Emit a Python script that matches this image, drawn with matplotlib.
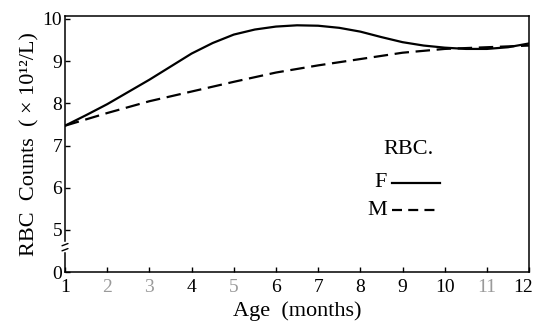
"""RBC counts vs age for female and male infants."""

import matplotlib

matplotlib.use("Agg")
import matplotlib.pyplot as plt

# readings (value 0 on the broken axis sits at 4.0)
AGE_F = [1, 1.5, 2, 2.5, 3, 3.5, 4, 4.5, 5, 5.5, 6, 6.5, 7, 7.5, 8, 8.5, 9, 9.5, 10, 10.5, 11, 11.5, 12]
RBC_F = [7.47, 7.72, 7.98, 8.27, 8.56, 8.87, 9.18, 9.43, 9.63, 9.75, 9.82, 9.85, 9.84,
         9.79, 9.70, 9.57, 9.45, 9.37, 9.32, 9.29, 9.29, 9.33, 9.42]
AGE_M = [1, 2, 3, 4, 5, 6, 7, 8, 9, 10, 11, 12]
RBC_M = [7.47, 7.77, 8.05, 8.28, 8.51, 8.73, 8.90, 9.05, 9.20, 9.29, 9.33, 9.37]

X_TICKS = list(range(1, 13))
Y_TICKS = [4, 5, 6, 7, 8, 9, 10]
Y_TICK_LABELS = ["0", "5", "6", "7", "8", "9", "10"]
FADED_X = {2, 3, 5, 11}

plt.rcParams["font.family"] = ["Liberation Serif", "DejaVu Serif"]

fig = plt.figure(figsize=(5.35, 3.27), dpi=100)
ax = fig.add_axes([0.1215, 0.168, 0.8675, 0.783])

ax.plot(AGE_F, RBC_F, color="black", lw=1.6, solid_capstyle="round")
ax.plot(AGE_M, RBC_M, color="black", lw=1.6, ls=(0, (6.5, 3)))

ax.set_xlim(1, 12)
ax.set_ylim(4.0, 10.07)
ax.set_xticks(X_TICKS)
# the last label is drawn by hand, a little left of its tick
ax.set_xticklabels([str(v) for v in X_TICKS[:-1]] + [""])
for lab, v in zip(ax.get_xticklabels(), X_TICKS):
    if v in FADED_X:
        lab.set_color("#9a9a9a")
ax.annotate(str(X_TICKS[-1]), xy=(X_TICKS[-1], 0), xycoords=("data", "axes fraction"),
            xytext=(-4.5, -5), textcoords="offset points", ha="center", va="top", fontsize=14)
ax.set_yticks(Y_TICKS)
ax.set_yticklabels(Y_TICK_LABELS)
ax.tick_params(direction="in", length=3.5, width=1, labelsize=14)
ax.tick_params(axis="x", pad=5)
ax.tick_params(axis="y", pad=2)

for side in ("top", "right", "bottom"):
    ax.spines[side].set_linewidth(1.1)
# broken left axis
ax.spines["left"].set_visible(False)
ax.plot([0, 0], [4.74, 10.07], transform=ax.get_yaxis_transform(), color="black", lw=1.1, clip_on=False)
ax.plot([0, 0], [4.0, 4.45], transform=ax.get_yaxis_transform(), color="black", lw=1.1, clip_on=False)
for yb in (4.53, 4.65):
    ax.annotate("", xy=(0.012, yb + 0.05), xytext=(-0.012, yb - 0.05),
                xycoords=("axes fraction", "data"), textcoords=("axes fraction", "data"),
                arrowprops=dict(arrowstyle="-", lw=1.0, color="black"))

ax.set_xlabel("Age  (months)", fontsize=16, labelpad=4)
ax.set_ylabel("RBC  Counts  ( × 10¹²/L)", fontsize=16, labelpad=2)

# legend drawn as text + line samples
ax.text(0.685, 0.477, "RBC.", transform=ax.transAxes, fontsize=16, ha="left", va="center")
ax.text(0.679, 0.348, "F", transform=ax.transAxes, fontsize=16, ha="center", va="center")
ax.text(0.672, 0.242, "M", transform=ax.transAxes, fontsize=16, ha="center", va="center")
ax.plot([0.705, 0.808], [0.348, 0.348], transform=ax.transAxes, color="black", lw=1.6)
ax.plot([0.705, 0.808], [0.242, 0.242], transform=ax.transAxes, color="black", lw=1.6, ls=(0, (4.5, 2.8)))

fig.savefig("out.png", dpi=100)
